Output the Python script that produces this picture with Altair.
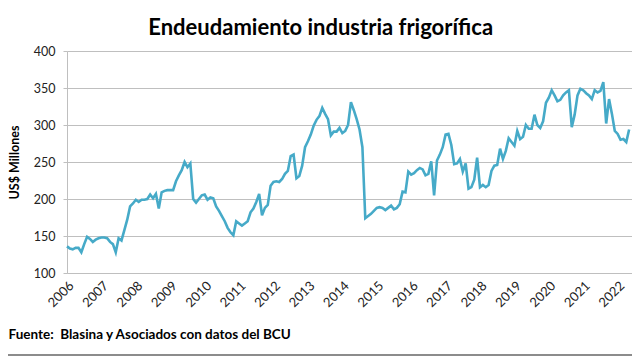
import altair as alt
import pandas as pd

# Monthly values (US$ millones), Jan 2006 .. May 2022
y2006 = [136, 133, 132, 134, 134, 128, 139, 149, 146, 142, 145, 147]
y2007 = [148, 148, 147, 142, 139, 128, 147, 144, 158, 172, 190, 194]
y2008 = [199, 196, 199, 199, 200, 206, 201, 207, 187, 209, 211, 212]
y2009 = [212, 212, 224, 232, 239, 250, 243, 248, 200, 195, 200, 205]
y2010 = [206, 199, 202, 201, 190, 184, 177, 170, 161, 155, 151, 170]
y2011 = [167, 164, 167, 170, 182, 187, 196, 207, 178, 188, 192, 218]
y2012 = [223, 224, 223, 227, 234, 238, 258, 260, 228, 231, 245, 270]
y2013 = [278, 287, 299, 307, 312, 323, 315, 308, 286, 291, 291, 296]
y2014 = [289, 292, 300, 331, 320, 308, 294, 270, 174, 177, 180, 184]
y2015 = [188, 189, 188, 185, 188, 191, 186, 188, 193, 210, 209, 237]
y2016 = [233, 235, 239, 242, 240, 232, 234, 251, 205, 252, 260, 270]
y2017 = [287, 288, 273, 247, 248, 254, 237, 248, 214, 216, 226, 256]
y2018 = [216, 219, 216, 219, 238, 245, 246, 268, 254, 265, 282, 277]
y2019 = [272, 292, 281, 284, 300, 295, 295, 314, 300, 296, 305, 330]
y2020 = [337, 347, 340, 332, 334, 340, 344, 347, 297, 314, 340, 349]
y2021 = [347, 343, 340, 335, 347, 344, 346, 358, 302, 335, 315, 292]
y2022 = [288, 280, 281, 277, 294]

year_labels = list(range(2006, 2023))
y_ticks = [100, 150, 200, 250, 300, 350, 400]

values = (y2006 + y2007 + y2008 + y2009 + y2010 + y2011 + y2012 + y2013 +
          y2014 + y2015 + y2016 + y2017 + y2018 + y2019 + y2020 + y2021 + y2022)
df = pd.DataFrame({"m": list(range(len(values))), "v": values})

FONT = "Lato"
GRID = "#BFBFBF"

line = alt.Chart(df).mark_line(color="#46AAC8", strokeWidth=2.6).encode(
    x=alt.X(
        "m:Q",
        scale=alt.Scale(domain=[0, 197], nice=False, zero=False),
        axis=alt.Axis(
            values=[12 * k for k in range(len(year_labels))],
            labelExpr="'' + (2006 + datum.value / 12)",
            labelAngle=-45,
            labelFontSize=13,
            labelFont=FONT,
            labelColor="#222222",
            labelPadding=6,
            grid=False,
            ticks=False,
            domain=True,
            domainColor=GRID,
            title="Fuente:\u00a0 Blasina y Asociados con datos del BCU",
            titleFont=FONT,
            titleFontSize=13.5,
            titleFontWeight="bold",
            titleColor="#000000",
            titleAnchor="start",
            titleAlign="left",
            titleBaseline="middle",
            titleX=-59,
            titleY=61,
        ),
    ),
    y=alt.Y(
        "v:Q",
        scale=alt.Scale(domain=[100, 400], nice=False, zero=False),
        axis=alt.Axis(
            values=y_ticks,
            grid=True,
            gridColor=GRID,
            gridWidth=1.2,
            domain=True,
            domainColor=GRID,
            ticks=True,
            tickSize=4,
            tickColor=GRID,
            labelFontSize=12.5,
            labelFont=FONT,
            labelColor="#222222",
            labelPadding=8,
            title="US$ Millones",
            titleFont=FONT,
            titleFontSize=12.5,
            titleFontWeight="bold",
            titleColor="#000000",
            titlePadding=12,
        ),
    ),
)

frame_data = alt.Data(values=[{"k": 1}])
bottom_rule = alt.Chart(frame_data).mark_rule(color="#8C8C8C", strokeWidth=2).encode(
    x=alt.value(-59), x2=alt.value(565), y=alt.value(304)
)

chart = alt.layer(line, bottom_rule).properties(
    width=565,
    height=222,
    padding={"left": 59, "top": 43, "right": 0, "bottom": 83},
    autosize=alt.AutoSizeParams(type="none"),
    title=alt.TitleParams(
        "Endeudamiento industria frigorífica",
        font=FONT,
        fontSize=22,
        fontWeight="bold",
        color="#000000",
        anchor="middle",
        frame="bounds",
        offset=5,
    ),
).configure_view(stroke=None)

chart.save("out.html", embed_options={"renderer": "svg", "actions": False})
